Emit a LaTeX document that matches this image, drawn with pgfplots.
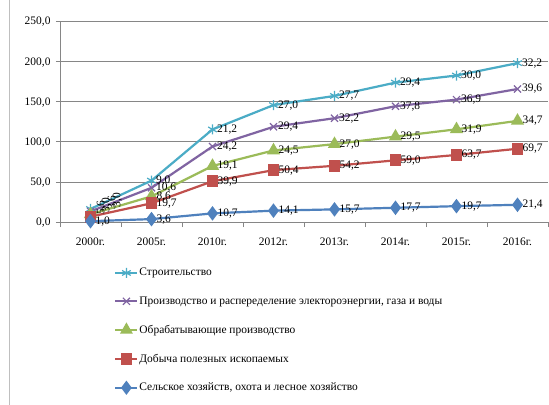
\documentclass[border=0pt]{standalone}
\usepackage{fontspec}
\setmainfont{Liberation Serif}
\usepackage{pgfplots}
\usepackage{pgfplotstable}
\pgfplotsset{compat=1.18}
\definecolor{cS}{HTML}{4BACC6}
\definecolor{cP}{HTML}{8064A2}
\definecolor{cG}{HTML}{9BBB59}
\definecolor{cR}{HTML}{C0504D}
\definecolor{cB}{HTML}{4F81BD}
\definecolor{gridc}{HTML}{868686}
\pgfplotstableread{
x blue red green purple cyan
0 1.0 5.6 3.0 3.6 3.0
1 3.6 19.7 8.6 10.6 9.0
2 10.7 39.9 19.1 24.2 21.2
3 14.1 50.4 24.5 29.4 27.0
4 15.7 54.2 27.0 32.2 27.7
5 17.7 59.0 29.5 37.8 29.4
6 19.7 63.7 31.9 36.9 30.0
7 21.4 69.7 34.7 39.6 32.2
}\data
\newcommand{\lblfont}{\fontsize{11.5}{12}\selectfont}
\pgfplotsset{rot2000/.style={visualization depends on={\thisrow{x} \as \myx},
  nodes near coords style={xshift={\myx<0.5 ? #1 : 3}, rotate={\myx<0.5 ? 90 : 0}}}}
\begin{document}
\begin{tikzpicture}
\useasboundingbox (-60bp,-183bp) rectangle (489bp,222bp);
\fill[white] (-60bp,-183bp) rectangle (489bp,222bp);
\draw[gray!50, line width=0.8bp] (-51bp,-183bp) -- (-51bp,222bp);
\begin{axis}[
  scale only axis, width=488bp, height=201bp,
  xmin=-0.5, xmax=7.5, ymin=0, ymax=250,
  stack plots=y,
  /pgf/number format/assume math mode=true,
  axis lines=left, axis line style={-, draw=gridc, line width=0.6bp},
  ytick={0,50,...,250}, ymajorgrids, grid style={gridc, line width=0.6bp},
  yticklabel={\pgfmathprintnumber[fixed,fixed zerofill,precision=1,use comma]{\tick}},
  xtick={0,...,7},
  xticklabels={2000г.,2005г.,2010г.,2012г.,2013г.,2014г.,2015г.,2016г.},
  minor xtick={-0.5,0.5,...,7.5},
  major x tick style={draw=none},
  minor x tick style={draw=gridc, line width=0.6bp},
  tick align=outside,
  minor tick length=5bp,
  major tick length=4bp,
  major y tick style={draw=gridc, line width=0.6bp},
  tick label style={font=\lblfont},
  xticklabel style={yshift=-8bp},
  yticklabel style={xshift=-2bp, yshift=-1bp},
  every axis plot/.append style={line width=2.2bp},
  point meta=explicit,
  nodes near coords={\pgfmathprintnumber[fixed,fixed zerofill,precision=1,use comma]{\pgfplotspointmeta}},
  nodes near coords style={font=\lblfont, text=black, anchor=west, inner sep=1bp},
  reverse legend,
  legend style={draw=none, fill=none, at={(0.105,-0.215)}, anchor=north west,
    row sep=17.3bp, font=\lblfont, nodes={inner sep=1bp}},
  legend cell align=left,
  legend image code/.code={\draw[#1, mark repeat=2, mark phase=2, line width=2bp] plot coordinates {(0bp,0bp) (11bp,0bp) (22bp,0bp)};},
]
\addplot[cB, mark=diamond*, mark size=5.5bp, mark options={solid, fill=cB}, nodes near coords style={xshift=3bp}] table[x=x, y=blue, meta=blue] {\data};
\addlegendentry{Сельское хозяйств, охота и лесное хозяйство}
\addplot[cR, mark=square*, mark size=4.8bp, mark options={solid, fill=cR}, rot2000=11] table[x=x, y=red, meta=red] {\data};
\addlegendentry{Добыча полезных ископаемых}
\addplot[cG, mark=triangle*, mark size=5.5bp, mark options={solid, fill=cG}, rot2000=16] table[x=x, y=green, meta=green] {\data};
\addlegendentry{Обрабатывающие производство}
\addplot[cP, mark=x, mark size=5bp, mark options={solid, line width=1.2bp}, rot2000=22] table[x=x, y=purple, meta=purple] {\data};
\addlegendentry{Производство и распеределение электороэнергии, газа и воды}
\addplot[cS, mark=asterisk, mark size=5bp, mark options={solid, line width=1.2bp}, rot2000=27] table[x=x, y=cyan, meta=cyan] {\data};
\addlegendentry{Строительство}
\end{axis}
\end{tikzpicture}
\end{document}
